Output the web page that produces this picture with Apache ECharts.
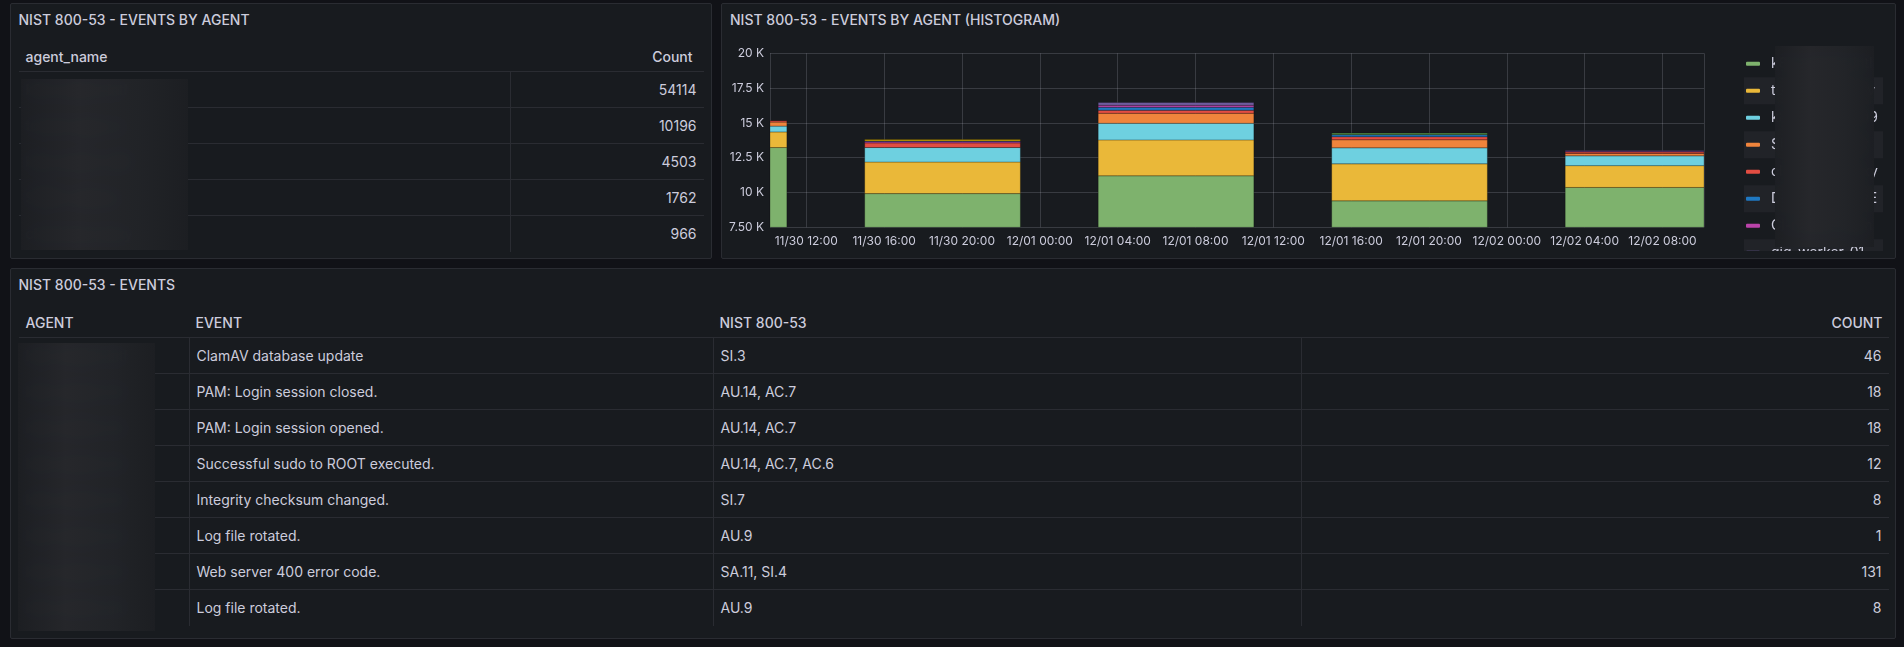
<!DOCTYPE html>
<html>
<head>
<meta charset="utf-8">
<script src="https://cdn.jsdelivr.net/npm/echarts@6/dist/echarts.min.js"></script>
<style>
html, body { margin: 0; height: 100%; background: #111217; overflow: hidden; }
body { position: relative; font-family: Inter, 'Noto Sans', sans-serif; font-size: 14px; color: #ccccdc; }
.panel { position: absolute; background: #181b1f; border: 1px solid #2a2c32; border-radius: 2px; box-sizing: border-box; }
.ptitle { position: absolute; left: 8px; top: 0; line-height: 31px; font-weight: 500; white-space: nowrap; }
.tbl { position: absolute; left: 8px; top: 39.8px; }
.row { display: flex; height: 36px; box-sizing: border-box; border-bottom: 1px solid #2a2c32; }
.row.head { height: 29px; font-weight: 500; }
.row:last-child { border-bottom: none; }
.cell { box-sizing: border-box; padding: 0 7px; line-height: 35px; white-space: nowrap; overflow: hidden; }
.head .cell { line-height: 28px; }
.row:not(.head) .cell + .cell { border-left: 1px solid #2a2c32; }
.num { text-align: right; }
.blur { position: absolute; z-index: 5; backdrop-filter: blur(10px);
  background: linear-gradient(90deg, rgba(29,31,35,0.98) 0%, rgba(38,39,43,0.98) 35%, rgba(34,36,40,0.98) 70%, rgba(29,31,35,0.98) 100%); }
#chart { position: absolute; left: 722px; top: 31px; width: 1173px; height: 220px; z-index: 2; }
</style>
</head>
<body>
<div class="panel" style="left:9.5px;top:2.5px;width:702px;height:256px;">
  <div class="ptitle">NIST 800-53 - EVENTS BY AGENT</div>
  <div class="tbl" id="agentTable"></div>
</div>
<div class="panel" style="left:721px;top:2.5px;width:1175px;height:256px;">
  <div class="ptitle">NIST 800-53 - EVENTS BY AGENT (HISTOGRAM)</div>
</div>
<div id="chart"></div>
<div class="panel" style="left:9.5px;top:268px;width:1886.5px;height:371px;">
  <div class="ptitle">NIST 800-53 - EVENTS</div>
  <div class="tbl" id="eventTable"></div>
</div>
<div class="blur" style="left:21px;top:79px;width:167px;height:171px;"></div>
<div class="blur" style="left:18px;top:343px;width:137px;height:288px;"></div>
<div class="blur" style="left:1775px;top:46px;width:99px;height:201px;"></div>

<script type="text/javascript">
// agents, in legend / ranking order
var agentNames = ['k8s-worker-intl', 'tomcat-app-srv', 'k8s-worker-s09', 'SIEM-collector', 'cloud-gw-proxy',
    'DB-primary-svE', 'CI-runner-main', 'gig_worker-01', 'mail-relay-02', 'vpn-gateway'];
var agentColors = ['#7EB26D', '#EAB839', '#6ED0E0', '#EF843C', '#E24D42',
    '#1F78C1', '#BA43A9', '#705DA0', '#508642', '#CCA300'];
var agentTotals = [54114, 10196, 4503, 1762, 966];

// histogram buckets (centre of each bucket) and counts per agent
var bucketTimes = ['2023-11-30T07:00:00', '2023-11-30T19:00:00', '2023-12-01T07:00:00',
    '2023-12-01T19:00:00', '2023-12-02T07:00:00'];
var bucketCounts = [
    [13230, 9920, 11200, 9400, 10364],
    [1120, 2270, 2580, 2660, 1566],
    [420, 1040, 1190, 1150, 703],
    [290, 0, 720, 580, 172],
    [90, 330, 220, 220, 106],
    [0, 0, 214, 143, 0],
    [0, 80, 143, 0, 50],
    [0, 60, 193, 0, 50],
    [0, 0, 0, 120, 0],
    [0, 100, 0, 0, 0]
];
var timeMin = '2023-11-30T10:08:00';
var timeMax = '2023-12-02T10:08:00';

// events table
var eventAgents = [0, 0, 0, 0, 0, 0, 0, 0];
var eventNames = ['ClamAV database update', 'PAM: Login session closed.', 'PAM: Login session opened.',
    'Successful sudo to ROOT executed.', 'Integrity checksum changed.', 'Log file rotated.',
    'Web server 400 error code.', 'Log file rotated.'];
var eventNist = ['SI.3', 'AU.14, AC.7', 'AU.14, AC.7', 'AU.14, AC.7, AC.6', 'SI.7', 'AU.9', 'SA.11, SI.4', 'AU.9'];
var eventCounts = [46, 18, 18, 12, 8, 1, 131, 8];

function buildTable(el, widths, headers, rows, numCols, headPad) {
    var html = '<div class="row head">';
    headers.forEach(function (h, j) {
        var num = numCols.indexOf(j) >= 0;
        html += '<div class="cell' + (num ? ' num' : '') + '" style="width:' + widths[j] + 'px;' +
            (num ? 'padding-right:' + headPad + 'px;' : '') + '">' + h + '</div>';
    });
    html += '</div>';
    rows.forEach(function (r) {
        html += '<div class="row">';
        r.forEach(function (v, j) {
            html += '<div class="cell' + (numCols.indexOf(j) >= 0 ? ' num' : '') + '" style="width:' + widths[j] + 'px">' + v + '</div>';
        });
        html += '</div>';
    });
    el.innerHTML = html;
}

buildTable(document.getElementById('agentTable'), [491, 194], ['agent_name', 'Count'],
    agentTotals.map(function (c, i) { return [agentNames[i], c]; }), [1], 11);

buildTable(document.getElementById('eventTable'), [170, 524, 588, 588], ['AGENT', 'EVENT', 'NIST 800-53', 'COUNT'],
    eventNames.map(function (e, i) { return [agentNames[eventAgents[i]], e, eventNist[i], eventCounts[i]]; }), [3], 6);

var dom = document.getElementById('chart');
var myChart = echarts.init(dom);
var HALF = 4 * 3600 * 1000;

function renderBar(params, api) {
    var start = api.coord([api.value(0) - HALF, api.value(2)]);
    var end = api.coord([api.value(0) + HALF, api.value(1)]);
    var cs = params.coordSys;
    var shape = echarts.graphic.clipRectByRect({
        x: start[0], y: start[1], width: end[0] - start[0], height: end[1] - start[1]
    }, { x: cs.x, y: cs.y, width: cs.width, height: cs.height });
    return shape && {
        type: 'rect',
        shape: shape,
        style: { fill: api.visual('color'), stroke: 'rgba(0,0,0,0.25)', lineWidth: 1 }
    };
}

// stack the buckets
var base = bucketTimes.map(function () { return 0; });
var series = agentNames.map(function (name, i) {
    var data = [];
    bucketTimes.forEach(function (t, k) {
        var v = bucketCounts[i][k];
        if (v > 0) {
            data.push([new Date(t).getTime(), base[k], base[k] + v]);
            base[k] += v;
        }
    });
    return {
        name: name,
        type: 'custom',
        renderItem: renderBar,
        color: agentColors[i],
        encode: { x: 0, y: [1, 2] },
        data: data
    };
});

var legendRows = [];
for (var k = 1; k < agentNames.length; k += 2) {
    legendRows.push({
        type: 'rect', left: 1022, top: 19.2 + 27 * k, z: -1,
        shape: { width: 139, height: 27 },
        style: { fill: '#212328' }
    });
}

var option = {
    animation: false,
    textStyle: { fontFamily: 'Inter' },
    grid: { left: 48, top: 22.3, width: 934, height: 174 },
    legend: {
        orient: 'vertical',
        left: 1024,
        top: 19.2,
        height: 400,
        padding: 0,
        itemGap: 0,
        itemWidth: 14,
        itemHeight: 4,
        icon: 'roundRect',
        data: agentNames,
        textStyle: { color: '#ccccdc', fontSize: 14, fontFamily: 'Inter', lineHeight: 27, padding: [0, 0, 0, 6] }
    },
    graphic: legendRows,
    xAxis: {
        type: 'time',
        min: timeMin,
        max: timeMax,
        splitNumber: 12,
        minInterval: 4 * 3600 * 1000,
        maxInterval: 4 * 3600 * 1000,
        axisLine: { show: false },
        axisTick: { show: false },
        splitLine: { show: true, lineStyle: { color: 'rgba(204,204,220,0.18)' } },
        axisLabel: {
            formatter: '{MM}/{dd} {HH}:{mm}',
            color: '#ccccdc', fontSize: 12, fontFamily: 'Inter', margin: 8
        }
    },
    yAxis: {
        type: 'value',
        min: 7500,
        max: 20000,
        interval: 2500,
        axisLine: { show: false },
        axisTick: { show: false },
        splitLine: { lineStyle: { color: 'rgba(204,204,220,0.18)' } },
        axisLabel: {
            color: '#ccccdc', fontSize: 12, fontFamily: 'Inter', margin: 6,
            formatter: function (v) {
                var n = v / 1000;
                return (Number.isInteger(n) ? n : n.toPrecision(3)) + ' K';
            }
        }
    },
    series: series
};

if (option && typeof option === 'object') {
    myChart.setOption(option);
}
</script>
</body>
</html>
